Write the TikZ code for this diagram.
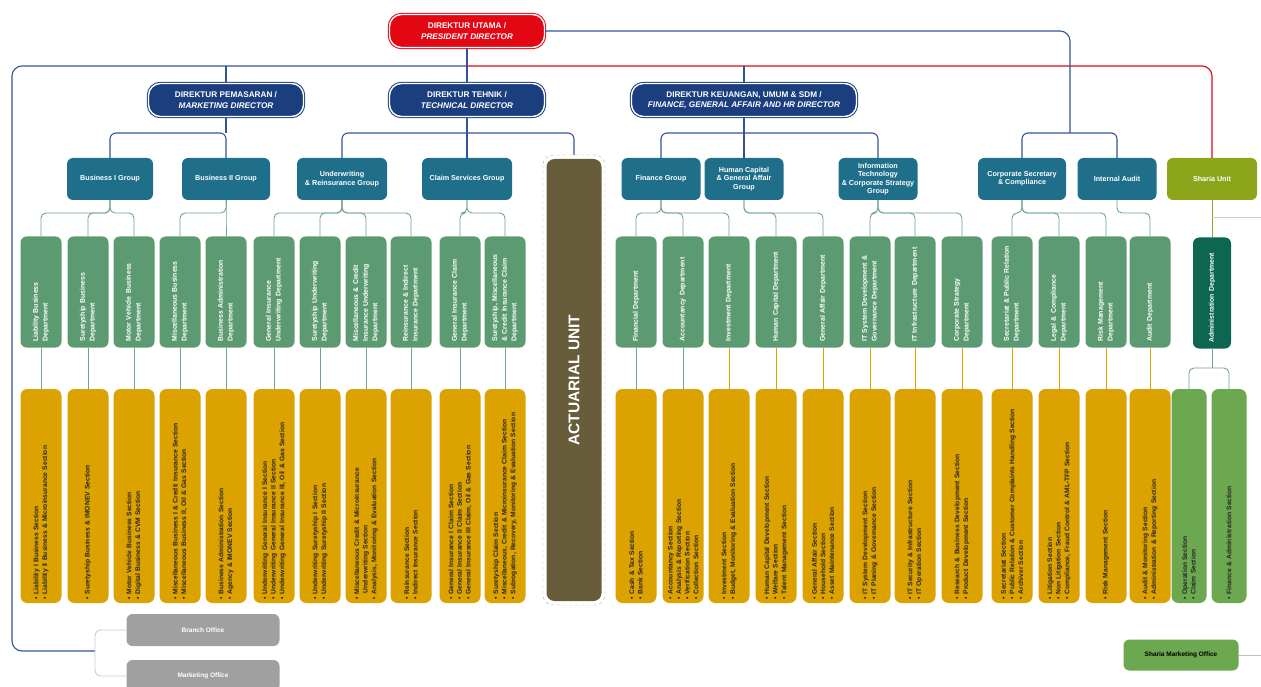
\documentclass[tikz,border=0pt]{standalone}
\usepackage{fontspec}
\setmainfont{Liberation Sans}
\usetikzlibrary{positioning,calc}
\definecolor{presred}{HTML}{E30613}
\definecolor{dirblue}{HTML}{1B3F7E}
\definecolor{grpteal}{HTML}{1F6F8B}
\definecolor{deptgreen}{HTML}{5C9B71}
\definecolor{secyellow}{HTML}{DCA200}
\definecolor{actolive}{HTML}{675D3A}
\definecolor{shariaolive}{HTML}{8CA51B}
\definecolor{shariagreen}{HTML}{6BA84F}
\definecolor{admingreen}{HTML}{0D6650}
\definecolor{officegray}{HTML}{A0A0A0}
\definecolor{lineblue}{HTML}{2F5597}
\definecolor{linegreen}{HTML}{6FA58A}
\newcommand{\secbul}{\textbullet\ }
\tikzstyle{director} = [rounded corners=12pt, fill=dirblue, draw=dirblue, double=white, double distance=1.4pt, line width=1pt, text=white, font=\bfseries\fontsize{8.2}{10.5}\selectfont, align=center, minimum height=33pt, inner sep=2pt]
\tikzstyle{group} = [rounded corners=6pt, fill=grpteal, text=white, font=\bfseries\fontsize{7.2}{8.4}\selectfont, align=center, minimum height=42pt, inner sep=2pt]
\tikzstyle{dept} = [rotate=90, rounded corners=6pt, fill=deptgreen, text=white, font=\bfseries\fontsize{6.9}{9.6}\selectfont, minimum height=41pt, text width=99pt, align=left, inner xsep=6pt, inner ysep=0pt]
\tikzstyle{section} = [rotate=90, rounded corners=7pt, fill=secyellow, text=black!85, font=\bfseries\fontsize{6.7}{8.6}\selectfont, minimum height=41pt, text width=206pt, align=left, inner xsep=4pt, inner ysep=0pt]
\tikzstyle{office} = [rounded corners=6pt, fill=officegray, text=white, font=\bfseries\fontsize{6.5}{8}\selectfont, minimum width=153pt, minimum height=32pt]
\tikzstyle{topline} = [lineblue, line width=1.1pt]
\tikzstyle{redline} = [presred, line width=1.1pt]
\tikzstyle{grpline} = [linegreen, line width=0.9pt, rounded corners=5pt]

\begin{document}
\begin{tikzpicture}[x=1pt, y=-1pt]
\useasboundingbox (0,0) rectangle (1261,687);
% directors
\node (pres) [director, fill=presred, draw=presred, minimum width=155pt] at (467,31) {DIREKTUR UTAMA /\\\textit{PRESIDENT DIRECTOR}};
\node (dir1) [director, minimum width=155pt] at (226,100) {DIREKTUR PEMASARAN /\\\textit{MARKETING DIRECTOR}};
\node (dir2) [director, minimum width=155pt] at (467,100) {DIREKTUR TEHNIK /\\\textit{TECHNICAL DIRECTOR}};
\node (dir3) [director, minimum width=225pt] at (744,100) {DIREKTUR KEUANGAN, UMUM \& SDM /\\\textit{FINANCE, GENERAL AFFAIR AND HR DIRECTOR}};
% groups
\node (g1) [group, minimum width=86pt] at (110,179) {Business I Group};
\node (g2) [group, minimum width=88pt] at (226,179) {Business II Group};
\node (g3) [group, minimum width=90pt] at (342,179) {Underwriting\\\& Reinsurance Group};
\node (g4) [group, minimum width=90pt] at (467,179) {Claim Services Group};
\node (g5) [group, minimum width=79pt] at (661,179) {Finance Group};
\node (g6) [group, minimum width=79pt] at (744,179) {Human Capital\\\& General Affair\\Group};
\node (g7) [group, minimum width=79pt] at (878,179) {Information\\Technology\\\& Corporate Strategy\\Group};
\node (cs) [group, minimum width=88pt] at (1022,179) {Corporate Secretary\\\& Compliance};
\node (ia) [group, minimum width=79pt] at (1117,179) {Internal Audit};
\node (sharia) [group, fill=shariaolive, minimum width=90pt] at (1212,179) {Sharia Unit};
% actuarial
\node (act) [rotate=90, rounded corners=8pt, fill=actolive, text=white, font=\bfseries\fontsize{15.5}{18}\selectfont, minimum width=442pt, minimum height=55pt] at (574,380) {ACTUARIAL UNIT};
\node (actframe) [rotate=90, draw=gray!70, dashed, rounded corners=10pt, minimum width=450pt, minimum height=62pt] at (574,380) {};
% departments
\foreach \i/\x/\t in {1/41/{Liability Business\\Department},
  2/88/{Suretyship Business\\Department},
  3/134/{Motor Vehicle Business\\Department},
  4/180/{Miscellaneous Business\\Department},
  5/226/{Business Administration\\Department},
  6/274/{General Insurance\\Underwriting Department},
  7/320/{Suretyship Underwriting\\Department},
  8/366/{Miscellaneous \& Credit\\Insurance Underwriting\\Department},
  9/411/{Reinsurance \& Indirect\\Insurance Department},
  10/460/{General Insurance Claim\\Department},
  11/505/{Suretyship, Miscellaneous\\\& Credit Insurance Claim\\Department},
  12/636/{Financial Department},
  13/683/{Accountancy Department},
  14/729/{Investment Department},
  15/776/{Human Capital Department},
  16/823/{General Affair Department},
  17/870/{IT System Development \&\\Governance Department},
  18/915/{IT Infrastructure Department},
  19/962/{Corporate Strategy\\Department},
  20/1012/{Secretariat \& Public Relation\\Department},
  21/1059/{Legal \& Compliance\\Department},
  22/1106/{Risk Management\\Department},
  23/1150/{Audit Department}}
  \node (d\i) [dept] at (\x,292) {\t};
\node (admin) [dept, fill=admingreen, minimum height=38pt] at (1212,293) {Administration Department};
% sections
\foreach \i/\x/\t in {1/41/{\secbul Liability I Business Section\\\secbul Liability II Business \& Microinsurance Section},
  2/88/{\secbul Suretyship Business \& IMONEV Section},
  3/134/{\secbul Motor Vehicle Business Section\\\secbul Digital Business \& CVM Section},
  4/180/{\secbul Miscellaneous Business I \& Credit Insurance Section\\\secbul Miscellaneous Business II, Oil \& Gas Section},
  5/226/{\secbul Business Administration Section\\\secbul Agency \& IMONEV Section},
  6/274/{\secbul Underwriting General Insurance I Section\\\secbul Underwriting General Insurance II Section\\\secbul Underwriting General Insurance III, Oil \& Gas Section},
  7/320/{\secbul Underwriting Suretyship I Section\\\secbul Underwriting Suretyship II Section},
  8/366/{\secbul Miscellaneous Credit \& Microinsurance\\\hspace*{6pt}Underwriting Section\\\secbul Analysis, Monitoring \& Evaluation Section},
  9/411/{\secbul Reinsurance Section\\\secbul Indirect Insurance Section},
  10/460/{\secbul General Insurance I Claim Section\\\secbul General Insurance II Claim Section\\\secbul General Insurance III Claim, Oil \& Gas Section},
  11/505/{\secbul Suretyship Claim Section\\\secbul Miscellaneous, Credit \& Microinsurance Claim Section\\\secbul Subrogation, Recovery, Monitoring \& Evaluation Section},
  12/636/{\secbul Cash \& Tax Section\\\secbul Bank Section},
  13/683/{\secbul Accountancy Section\\\secbul Analysis \& Reporting Section\\\secbul Verification Section\\\secbul Collection Section},
  14/729/{\secbul Investment Section\\\secbul Budget, Monitoring \& Evaluation Section},
  15/776/{\secbul Human Capital Development Section\\\secbul Welfare Section\\\secbul Talent Management Section},
  16/823/{\secbul General Affair Section\\\secbul Household Section\\\secbul Asset Maintenance Section},
  17/870/{\secbul IT System Development Section\\\secbul IT Planing \& Governance Section},
  18/915/{\secbul IT Security \& Infrastructure Section\\\secbul IT Operation Section},
  19/962/{\secbul Research \& Business Development Section\\\secbul Product Development Section},
  20/1012/{\secbul Secretariat Section\\\secbul Public Relation \& Customer Complaints Handling Section\\\secbul Archiver Section},
  21/1059/{\secbul Litigation Section\\\secbul Non Litigation Section\\\secbul Compliance, Fraud Control \& AML-TFP Section},
  22/1106/{\secbul Risk Management Section},
  23/1150/{\secbul Audit \& Monitoring Section\\\secbul Administration \& Reporting Section}}
  \node (s\i) [section] at (\x,496) {\t};
\node (sh1) [section, fill=shariagreen, minimum height=35pt] at (1189,496) {\secbul Operation Section\\\secbul Claim Section};
\node (sh2) [section, fill=shariagreen, minimum height=35pt] at (1229,496) {\secbul Finance \& Administration Section};
% offices
\node (branch) [office] at (203,630) {Branch Office};
\node (mkt) [office] at (203,676) {Marketing Office};
\node (smo) [office, fill=shariagreen, text=black, minimum width=115pt, minimum height=31pt] at (1181,655) {Sharia Marketing Office};
% junctions
\coordinate (topj) at (467,66);
\coordinate (lowc) at (12,651);
\coordinate (obr) at (95,651);
\coordinate (mj) at (226,133);
\coordinate (tj) at (467,133);
\coordinate (fj) at (744,133);
\coordinate (csj) at (1070,133);
\coordinate (shr) at (1261,217);
\coordinate (smr) at (1261,655);
% top lines
\draw[topline] (pres) -- (dir2);
\draw[topline, rounded corners=10pt] (topj) -| (lowc) -- (obr);
\draw[redline, rounded corners=10pt] (topj) -| (sharia.north);
\draw[topline] (dir1.north |- topj) -- (dir1.north);
\draw[topline] (dir3.north |- topj) -- (dir3.north);
\draw[topline, rounded corners=10pt] (pres.east) -| (csj);
\draw[topline, rounded corners=6pt] (cs.north) |- (csj) -| (ia.north);
\draw[topline] (dir1) -- (mj);
\draw[topline, rounded corners=6pt] (g1.north) |- (mj) -- (g2.north);
\draw[topline] (dir2) -- (g4);
\draw[topline, rounded corners=6pt] (g3.north) |- (tj) -| (actframe.east);
\draw[topline] (dir3) -- (g6);
\draw[topline, rounded corners=6pt] (g5.north) |- (fj) -| (g7.north);
% group to departments
\foreach \g/\ds in {g1/{d1,d2,d3}, g2/{d4,d5}, g3/{d6,d7,d8,d9}, g4/{d10,d11}, g5/{d12,d13,d14}, g6/{d15,d16}, g7/{d17,d18,d19}, cs/{d20,d21,d22}, ia/{d23}}
  \foreach \d in \ds
    \draw[grpline] (\g.south) -- (\g.south |- 0,213) -| (\d.east);
% departments to sections
\foreach \i in {1,...,13}
  \draw[linegreen, line width=0.9pt] (d\i.west) -- (s\i.east);
\foreach \i in {14,...,23}
  \draw[secyellow, line width=0.9pt] (d\i.west) -- (s\i.east);
% sharia
\draw[shariaolive, line width=0.9pt] (sharia.south) -- (admin.east);
\draw[gray!40, line width=0.9pt] (sharia.south |- shr) -- (shr);
\draw[linegreen, line width=0.9pt] (admin.west) -- (admin.west |- 0,368);
\draw[grpline] (sh1.east) |- (admin.west |- 0,368) -| (sh2.east);
\draw[gray!50, line width=0.9pt] (smo.east) -- (smr);
% offices
\draw[gray!40, line width=0.9pt, rounded corners=6pt] (branch.west) -| (obr) |- (mkt.west);
\end{tikzpicture}
\end{document}
